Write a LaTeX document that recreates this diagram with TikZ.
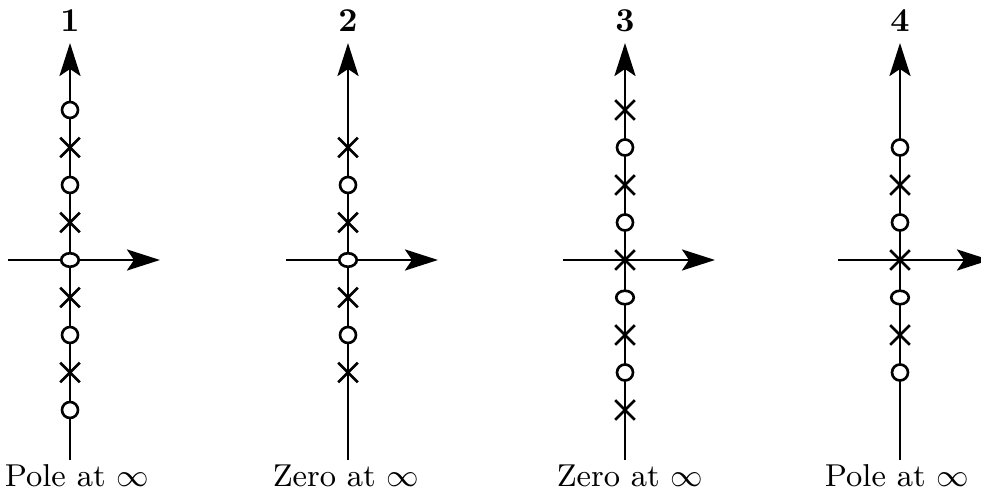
\documentclass[tikz,border=0pt]{standalone}
\usepackage{tikz}
\usetikzlibrary{arrows.meta, shapes.misc, shapes.geometric}

\begin{document}
\begin{tikzpicture}[x=1cm, y=1cm,
  axisline/.style={line width=0.8pt, -{Stealth[length=3.3mm, width=2.1mm, inset=0.7mm]}},
  zeromark/.style={circle, draw, line width=0.75pt, fill=white, inner sep=0pt, minimum size=1.6mm},
  zeroflat/.style={ellipse, draw, line width=0.75pt, fill=white, inner sep=0pt, minimum width=1.75mm, minimum height=1.35mm},
  polemark/.style={cross out, draw, line width=0.75pt, inner sep=0pt, minimum size=1.7mm},
  numlabel/.style={font=\fontsize{9.5}{11}\selectfont\bfseries},
  inflabel/.style={font=\fontsize{9}{11}\selectfont, anchor=base}]

  \useasboundingbox (0,0) rectangle (9.81,4.94);

  %% axes and labels
  \foreach \i/\x/\lx/\txt in {1/0.70/0.77/Pole, 2/3.48/3.46/Zero, 3/6.25/6.30/Zero, 4/9.00/8.97/Pole} {
    \coordinate (o\i) at (\x,2.34);
    \coordinate (t\i) at (\x,4.51);
    \coordinate (b\i) at (\x,0.34);
    \coordinate (l\i) at ({\x-0.62},2.34);
    \coordinate (r\i) at ({\x+0.90},2.34);
    \draw[axisline] (b\i) -- (t\i);
    \draw[axisline] (l\i) -- (r\i);
    \node[numlabel] (n\i) at (\x,4.73) {\i};
    \node[inflabel] (c\i) at (\lx,0.07) {\txt{} at $\infty$};
  }

  %% poles and zeros, k steps of 3.75mm from the origin
  \foreach \k/\mk in {4/zeromark, 3/polemark, 2/zeromark, 1/polemark, 0/zeroflat,
                      -1/polemark, -2/zeromark, -3/polemark, -4/zeromark}
    \node[\mk] (m1-\k) at ([yshift=\k*3.75mm]o1) {};
  \foreach \k/\mk in {3/polemark, 2/zeromark, 1/polemark, 0/zeroflat,
                      -1/polemark, -2/zeromark, -3/polemark}
    \node[\mk] (m2-\k) at ([yshift=\k*3.75mm]o2) {};
  \foreach \k/\mk in {4/polemark, 3/zeromark, 2/polemark, 1/zeromark, 0/polemark,
                      -1/zeroflat, -2/polemark, -3/zeromark, -4/polemark}
    \node[\mk] (m3-\k) at ([yshift=\k*3.75mm]o3) {};
  \foreach \k/\mk in {3/zeromark, 2/polemark, 1/zeromark, 0/polemark,
                      -1/zeroflat, -2/polemark, -3/zeromark}
    \node[\mk] (m4-\k) at ([yshift=\k*3.75mm]o4) {};

\end{tikzpicture}
\end{document}
